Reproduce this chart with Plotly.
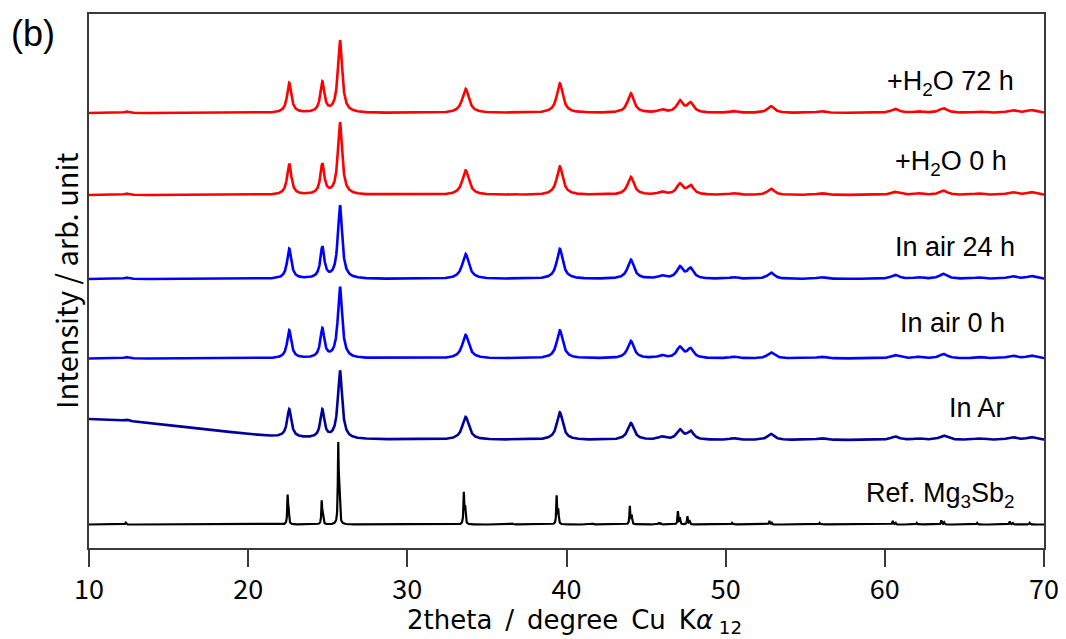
import numpy as np
import plotly.graph_objects as go

# ---------------- data ----------------
series_names = ["+H<sub>2</sub>O 72 h", "+H<sub>2</sub>O 0 h", "In air 24 h", "In air 0 h", "In Ar",
                "Ref. Mg<sub>3</sub>Sb<sub>2</sub>"]

# measured samples: peak positions (2theta, deg) and FWHM (deg)
meas_pos = [12.35, 22.58, 24.66, 25.77, 33.66, 36.7, 39.58, 44.04, 45.97, 47.12, 47.79,
            50.5, 52.85, 55.98, 60.65, 62.1, 63.68, 65.9, 67.98, 69.2]
meas_fwhm = [0.35, 0.32, 0.30, 0.32, 0.5, 0.4, 0.46, 0.48, 0.5, 0.48, 0.48,
             0.55, 0.52, 0.6, 0.62, 0.6, 0.62, 0.65, 0.65, 0.65]

# peak heights (arb. unit) above the baseline for each measured pattern
h_h2o_72 = [1.5, 30, 30, 72, 24, 0.8, 29.5, 19.5, 2.8, 11.5, 9.5, 1.7, 6.8, 1.8, 4.0, 1.5, 4.6, 1.5, 2.7, 2.8]
h_h2o_0 = [1.5, 31, 30, 72, 24.5, 0.8, 28.5, 18, 2.8, 10.5, 9.0, 1.7, 6.2, 1.8, 3.0, 1.5, 4.2, 1.5, 2.7, 2.8]
h_air_24 = [1.5, 30, 31, 73, 25, 0.8, 30, 19.2, 2.8, 11.5, 10.0, 1.7, 6.3, 1.8, 4.0, 1.5, 5.0, 1.5, 2.7, 2.8]
h_air_0 = [1.5, 28, 29, 71, 23.5, 0.8, 28, 17.5, 2.8, 10.8, 9.2, 1.7, 6.0, 1.8, 3.2, 1.5, 4.3, 1.5, 2.7, 2.8]
h_ar = [1.5, 28, 28, 68, 22.8, 0.8, 27.6, 16.8, 2.8, 9.6, 8.3, 1.7, 6.0, 1.8, 3.4, 1.5, 4.3, 1.5, 2.7, 2.8]

# vertical baselines of the stacked patterns (arb. unit)
base_h2o_72 = 435.0
base_h2o_0 = 353.0
base_air_24 = 269.0
base_air_0 = 189.5

# sloping background of the "In Ar" pattern (2theta, intensity)
ar_bg_x = [10, 11, 12.4, 14, 16, 17.4, 18, 20, 21.6, 23, 24.5, 26, 30, 40, 70]
ar_bg_y = [129, 128.2, 127, 124.5, 121, 118.5, 117.3, 114, 111.5, 110.2, 109.4, 108.8, 108.4, 108, 108]

# reference pattern (Kα1 positions) and heights
ref_pos = [12.3, 22.48, 24.62, 25.66, 33.55, 36.6, 39.38, 41.6, 43.98, 45.8, 47.0, 47.6,
           50.4, 52.75, 55.9, 60.5, 62.0, 63.55, 65.8, 67.85, 69.1]
ref_h = [1.5, 27, 22, 76, 31, 1.0, 28, 0.8, 18, 2.0, 13, 8, 1.5, 3.5, 1.5, 3.5, 1.5, 4.0, 1.5, 3.0, 1.5]
ref_base = 23.5
ref_fwhm = 0.06

x_ticks = [10, 20, 30, 40, 50, 60, 70]

# ---------------- build profiles ----------------
two_theta = np.round(np.arange(10.0, 70.0001, 0.01), 3)


def lorentz(x, x0, h, fwhm):
    g = fwhm / 2.0
    return h / (1.0 + ((x - x0) / g) ** 2)


def profile(pos, heights, widths):
    y = np.zeros_like(two_theta)
    for p, h, w in zip(pos, heights, widths):
        y += lorentz(two_theta, p, h, w)
    return y


y_h2o_72 = base_h2o_72 + profile(meas_pos, h_h2o_72, meas_fwhm)
y_h2o_0 = base_h2o_0 + profile(meas_pos, h_h2o_0, meas_fwhm)
y_air_24 = base_air_24 + profile(meas_pos, h_air_24, meas_fwhm)
y_air_0 = base_air_0 + profile(meas_pos, h_air_0, meas_fwhm)
y_ar = np.interp(two_theta, ar_bg_x, ar_bg_y) + profile(meas_pos, h_ar, meas_fwhm)

# reference: Kα1 + Kα2 (half intensity, shifted by the wavelength ratio)
dl = (1.54443 - 1.54056) / 1.54056
y_ref = np.full_like(two_theta, ref_base)
for p, h in zip(ref_pos, ref_h):
    shift = np.degrees(2 * np.tan(np.radians(p / 2)) * dl)
    y_ref += lorentz(two_theta, p, h, ref_fwhm)
    y_ref += lorentz(two_theta, p + shift, h * 0.5, ref_fwhm)

curves = [y_h2o_72, y_h2o_0, y_air_24, y_air_0, y_ar, y_ref]
colors = ["#FF0000", "#FF0000", "#0000FF", "#0000FF", "#00009A", "#000000"]
widths = [2.6, 2.6, 2.6, 2.6, 2.6, 2.2]

fig = go.Figure()
for name, yc, col, lw in zip(series_names, curves, colors, widths):
    fig.add_trace(go.Scatter(x=two_theta, y=yc, mode="lines", name=name,
                             line=dict(color=col, width=lw), showlegend=False,
                             hoverinfo="skip"))

# ---------------- layout ----------------
OFF = 8                      # page body margin of the html page
PL, PR, PT, PB = 89, 1044, 14, 548   # target plot box in page pixels
W, H = 1066 - OFF, 639 - OFF


def px_to_paper(px, py):
    return (px - PL) / (PR - PL), (PB - py) / (PB - PT)


axis_col = "#3a3a3a"
fig.update_layout(
    width=W, height=H,
    margin=dict(l=PL - OFF, r=W - (PR - OFF), t=PT - OFF, b=H - (PB - OFF), autoexpand=False),
    paper_bgcolor="white", plot_bgcolor="white",
    xaxis=dict(range=[10, 70], tickvals=x_ticks, ticktext=[str(v) for v in x_ticks],
               ticks="outside", ticklen=17, tickwidth=1.5, tickcolor=axis_col,
               showline=True, linecolor=axis_col, linewidth=1.5, mirror=True,
               showgrid=False, zeroline=False, automargin=False,
               ticklabelstandoff=0,
               tickfont=dict(family="Noto Sans CJK JP", size=27, color="black")),
    yaxis=dict(range=[0, PB - PT], showticklabels=False, ticks="",
               showline=True, linecolor=axis_col, linewidth=1.5, mirror=True,
               showgrid=False, zeroline=False, automargin=False),
)

label_font = dict(family="Liberation Sans, Arial", size=27, color="black")
label_right_px = [1016, 1009, 1017, 1007, 1007, 1017]
label_center_py = [83, 163, 247, 323, 408, 495]
for txt, rx, cy in zip(series_names, label_right_px, label_center_py):
    ax_, ay_ = px_to_paper(rx, cy)
    fig.add_annotation(x=ax_, y=ay_, xref="paper", yref="paper", text=txt,
                       showarrow=False, xanchor="right", yanchor="middle",
                       font=label_font)

# axis titles
tx, ty = px_to_paper(744, 621)
fig.add_annotation(x=tx, y=ty, xref="paper", yref="paper",
                   text="2theta\u2002/\u2002degree\u2002Cu\u2002K<i>α</i><sub> 12</sub>",
                   showarrow=False, xanchor="right", yanchor="middle",
                   font=dict(family="DejaVu Sans", size=26, color="black"))
tx, ty = px_to_paper(65, 281)
fig.add_annotation(x=tx, y=ty, xref="paper", yref="paper",
                   text="Intensity / arb. unit", textangle=-90,
                   showarrow=False, xanchor="center", yanchor="middle",
                   font=dict(family="Noto Sans CJK JP", size=29, color="black"))
tx, ty = px_to_paper(33, 34)
fig.add_annotation(x=tx, y=ty, xref="paper", yref="paper", text="(b)",
                   showarrow=False, xanchor="center", yanchor="middle",
                   font=dict(family="Liberation Sans, Arial", size=36, color="black"))

fig.write_html("out.html")
